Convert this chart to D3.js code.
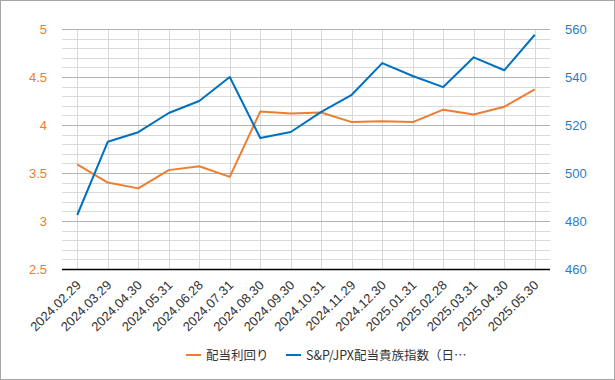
<!DOCTYPE html>
<html><head><meta charset="utf-8">
<script src="https://cdn.jsdelivr.net/npm/d3@7"></script>
<style>
html,body{margin:0;padding:0;background:#fff;}
svg{display:block;font-family:"Liberation Sans","DejaVu Sans",sans-serif;}
</style></head>
<body>
<svg id="chart" width="615" height="380"></svg>
<script>
const categories = ["2024.02.29","2024.03.29","2024.04.30","2024.05.31","2024.06.28","2024.07.31","2024.08.30","2024.09.30","2024.10.31","2024.11.29","2024.12.30","2025.01.31","2025.02.28","2025.03.31","2025.04.30","2025.05.30"];
const yieldValues = [3.59,3.40,3.34,3.53,3.57,3.46,4.14,4.12,4.13,4.03,4.04,4.03,4.16,4.11,4.19,4.37];
const indexValues = [482.5,513,517,525,530,540,514.6,517.1,525.5,532.6,545.8,540.4,535.8,548.2,542.8,557.6];
const leftTicks = [2.5,3,3.5,4,4.5,5];
const rightTicks = [460,480,500,520,540,560];
const seriesNames = ["配当利回り","S&P/JPX配当貴族指数（日…"];

const W=615,H=380;
const m={l:62,r:65,t:29,b:111};
const svg=d3.select("#chart");
svg.append("rect").attr("x",0.5).attr("y",0.5).attr("width",W-1).attr("height",H-1).attr("fill","#fff").attr("stroke","#a6a6a6");

const x=d3.scalePoint().domain(categories).range([m.l,W-m.r]).padding(0.5);
const yL=d3.scaleLinear().domain([2.5,5]).range([H-m.b,m.t]);
const yR=d3.scaleLinear().domain([460,560]).range([H-m.b,m.t]);
const orange="#ED7D31", blue="#0070C0";

const g=svg.append("g");
const minor=d3.range(2.5,5.001,0.1);
g.selectAll(".mn").data(minor).enter().append("line")
 .attr("x1",m.l).attr("x2",W-m.r).attr("y1",d=>Math.round(yL(d))+0.5).attr("y2",d=>Math.round(yL(d))+0.5)
 .attr("stroke","#d9d9d9").attr("stroke-width",1);
g.selectAll(".vg").data(categories).enter().append("line")
 .attr("x1",d=>Math.round(x(d))+0.5).attr("x2",d=>Math.round(x(d))+0.5).attr("y1",m.t).attr("y2",H-m.b)
 .attr("stroke","#d9d9d9");
g.selectAll(".mj").data(leftTicks).enter().append("line")
 .attr("x1",m.l).attr("x2",W-m.r).attr("y1",d=>Math.round(yL(d))+0.5).attr("y2",d=>Math.round(yL(d))+0.5)
 .attr("stroke","#b3b3b3");
g.append("line").attr("x1",m.l).attr("x2",W-m.r).attr("y1",H-m.b+0.5).attr("y2",H-m.b+0.5).attr("stroke","#000").attr("stroke-width",1.5);

const la=svg.append("g").attr("transform",`translate(${m.l-15},0)`)
 .call(d3.axisLeft(yL).tickValues(leftTicks).tickSize(0).tickPadding(0).tickFormat(d3.format("")));
la.select(".domain").remove();
la.selectAll("text").attr("fill",orange).attr("font-size",13).attr("font-family","Liberation Sans, sans-serif");
const ra=svg.append("g").attr("transform",`translate(${W-m.r+15},0)`)
 .call(d3.axisRight(yR).tickValues(rightTicks).tickSize(0).tickPadding(0));
ra.select(".domain").remove();
ra.selectAll("text").attr("fill","#2E7BC4").attr("font-size",13).attr("font-family","Liberation Sans, sans-serif");

const xa=svg.append("g").attr("transform",`translate(0,${H-m.b})`)
 .call(d3.axisBottom(x).tickSize(0).tickPadding(0));
xa.select(".domain").remove();
xa.selectAll("text").attr("fill","#333").attr("font-size",13).attr("font-family","Liberation Sans, sans-serif")
 .attr("text-anchor","end").attr("dy",0).attr("transform","translate(4,17) rotate(-45)");

const lineL=d3.line().x((d,i)=>x(categories[i])).y(d=>yL(d));
const lineR=d3.line().x((d,i)=>x(categories[i])).y(d=>yR(d));
svg.append("path").datum(yieldValues).attr("d",lineL).attr("fill","none").attr("stroke",orange).attr("stroke-width",2).attr("stroke-linejoin","round");
svg.append("path").datum(indexValues).attr("d",lineR).attr("fill","none").attr("stroke",blue).attr("stroke-width",2).attr("stroke-linejoin","round");

const lg=svg.append("g");
const items=[{n:seriesNames[0],c:orange,x:186},{n:seriesNames[1],c:blue,x:286}];
items.forEach(it=>{
 lg.append("line").attr("x1",it.x).attr("x2",it.x+15).attr("y1",355).attr("y2",355).attr("stroke",it.c).attr("stroke-width",2);
 lg.append("text").attr("x",it.x+20).attr("y",359.5).attr("font-size",12.5).attr("fill","#333")
  .attr("font-family","Noto Sans CJK JP, sans-serif").text(it.n);
});
</script>
</body></html>
